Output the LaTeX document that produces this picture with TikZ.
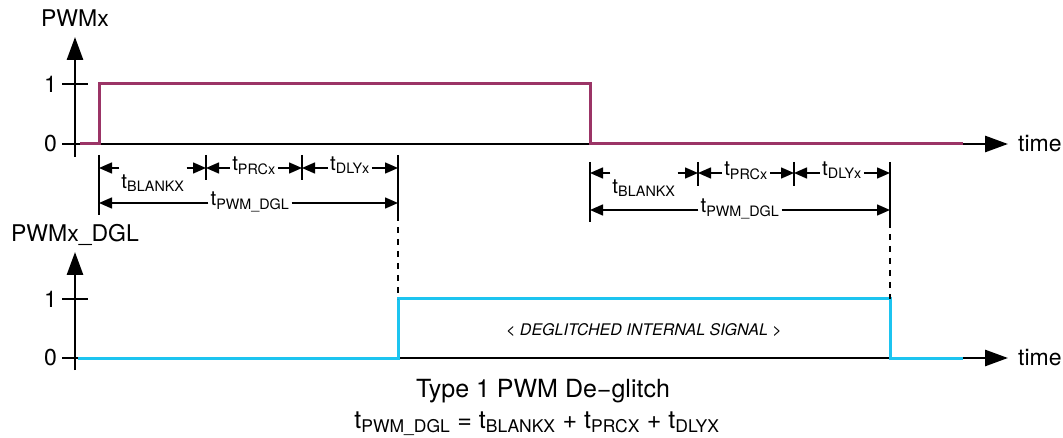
\documentclass[tikz,border=0pt]{standalone}
\usepackage{fontspec}
\setmainfont{TeX Gyre Heros}
\usetikzlibrary{arrows.meta, positioning, calc}

\definecolor{pwmred}{RGB}{155,52,102}
\definecolor{dglblue}{RGB}{28,196,240}
\newcommand{\tsub}[1]{t\textsubscript{#1}}

\begin{document}
\begin{tikzpicture}[
            x=1pt, y=-1pt,
            axis/.style={
				line width=2.8pt,
				-{Triangle[length=23pt,width=16pt]}
			},
            tickline/.style={
				line width=2pt
			},
            sigA/.style={
				line width=3pt,
				color=pwmred,
				line join=miter
			},
            sigB/.style={
				line width=3pt,
				color=dglblue,
				line join=miter
			},
            lbl/.style={
				font=\fontsize{23}{27}\selectfont,
				inner sep=1pt
			},
            dimtext/.style={
				font=\fontsize{20.5}{24}\selectfont,
				anchor=mid,
				inner sep=2pt
			},
            dimtick/.style={
				line width=1.6pt
			},
            dimarrow/.style={
				line width=1.5pt,
				-{Triangle[length=13pt,width=11pt]}
			},
            guide/.style={
				line width=1.5pt,
				dash pattern=on 6pt off 6pt
			}
        ]

        \useasboundingbox (0,0) rectangle (1063,438);

        % upper trace: PWMx
        \coordinate (yA0) at (75,157);
        \coordinate (yA1) at (75,37);
        \coordinate (tA0) at (62,144);
        \coordinate (tA1) at (1008,144);
        \node (nameA) [lbl, anchor=base] at (75,27) {PWMx};
        \node (oneA) [lbl, anchor=east] at (58,84) {1};
        \node (zeroA) [lbl, anchor=east] at (58,144) {0};
        \node (timeA) [lbl, right=9pt of tA1] {time};

        \draw [axis] (yA0) -- (yA1);
        \draw [axis] (tA0) -- (tA1);
        \draw [tickline] ([xshift=4pt]oneA.east) -- ++(26,0);
        \draw [tickline] ([xshift=4pt]zeroA.east) -- ++(26,0);

        \coordinate (pwmRise) at (99,84);
        \coordinate (pwmFall) at (590,84);
        \draw [sigA] (80,144) -- (pwmRise |- tA0) -- (pwmRise) -- (pwmFall) -- (pwmFall |- tA0) -- (963,144);

        % lower trace: PWMx_DGL
        \coordinate (yB0) at (75,370);
        \coordinate (yB1) at (75,252);
        \coordinate (tB0) at (62,358);
        \coordinate (tB1) at (1008,358);
        \node (nameB) [lbl, anchor=base] at (75,242) {PWMx\_DGL};
        \node (oneB) [lbl, anchor=east] at (58,299) {1};
        \node (zeroB) [lbl, anchor=east] at (58,358) {0};
        \node (timeB) [lbl, right=9pt of tB1] {time};

        \draw [axis] (yB0) -- (yB1);
        \draw [axis] (tB0) -- (tB1);
        \draw [tickline] ([xshift=4pt]oneB.east) -- ++(26,0);
        \draw [tickline] ([xshift=4pt]zeroB.east) -- ++(26,0);

        \coordinate (dglRise) at (398,299);
        \coordinate (dglFall) at (890,299);
        \draw [sigB] (78,358) -- (dglRise |- tB0) -- (dglRise) -- (dglFall) -- (dglFall |- tB0) -- (963,358);

        \node (inner) [font=\fontsize{16}{19}\selectfont\itshape] at (644,330) {< DEGLITCHED INTERNAL SIGNAL >};

        % timing after rising edge
        \coordinate (mA1) at (99,155);
        \coordinate (mA2) at (206,155);
        \coordinate (mA3) at (302,155);
        \coordinate (mA4) at (398,155);
        \draw [dimtick] (mA1) -- ++(0,60);
        \draw [dimtick] (mA2) -- ++(0,25);
        \draw [dimtick] (mA3) -- ++(0,25);
        \draw [dimtick] (mA4) -- ++(0,60) coordinate (gA);

        \node (prcA) [dimtext] at (254,168) {\tsub{PRCx}};
        \node (dlyA) [dimtext] at (350,168) {\tsub{DLYx}};
        \node (blankA) [dimtext] at (153,186) {\tsub{BLANKX}};
        \node (dglA) [dimtext] at (250,203) {\tsub{PWM\_DGL}};

        \draw [dimarrow] (blankA.west |- prcA.mid) -- (mA1 |- prcA.mid);
        \draw [dimarrow] (blankA.east |- prcA.mid) -- (mA2 |- prcA.mid);
        \draw [dimarrow] (prcA.mid west) -- (mA2 |- prcA.mid);
        \draw [dimarrow] (prcA.mid east) -- (mA3 |- prcA.mid);
        \draw [dimarrow] (dlyA.mid west) -- (mA3 |- dlyA.mid);
        \draw [dimarrow] (dlyA.mid east) -- (mA4 |- dlyA.mid);
        \draw [dimarrow] (dglA.mid west) -- (mA1 |- dglA.mid);
        \draw [dimarrow] (dglA.mid east) -- (mA4 |- dglA.mid);

        \draw [guide] (gA) -- (dglRise);

        % timing after falling edge
        \coordinate (mB1) at (590,162);
        \coordinate (mB2) at (698,162);
        \coordinate (mB3) at (794,162);
        \coordinate (mB4) at (890,162);
        \draw [dimtick] (mB1) -- ++(0,60);
        \draw [dimtick] (mB2) -- ++(0,24);
        \draw [dimtick] (mB3) -- ++(0,24);
        \draw [dimtick] (mB4) -- ++(0,60) coordinate (gB);

        \node (prcB) [dimtext] at (746,173) {\tsub{PRCx}};
        \node (dlyB) [dimtext] at (842,173) {\tsub{DLYx}};
        \node (blankB) [dimtext] at (644,191) {\tsub{BLANKX}};
        \node (dglB) [dimtext] at (740,210) {\tsub{PWM\_DGL}};

        \draw [dimarrow] (blankB.west |- prcB.mid) -- (mB1 |- prcB.mid);
        \draw [dimarrow] (blankB.east |- prcB.mid) -- (mB2 |- prcB.mid);
        \draw [dimarrow] (prcB.mid west) -- (mB2 |- prcB.mid);
        \draw [dimarrow] (prcB.mid east) -- (mB3 |- prcB.mid);
        \draw [dimarrow] (dlyB.mid west) -- (mB3 |- dlyB.mid);
        \draw [dimarrow] (dlyB.mid east) -- (mB4 |- dlyB.mid);
        \draw [dimarrow] (dglB.mid west) -- (mB1 |- dglB.mid);
        \draw [dimarrow] (dglB.mid east) -- (mB4 |- dglB.mid);

        \draw [guide] (gB) -- (dglFall);

        % caption
        \node (title) [font=\fontsize{25}{30}\selectfont, anchor=base] at (543,397) {Type 1 PWM De−glitch};
        \node (eqn) [font=\fontsize{25}{30}\selectfont, anchor=base] at (537,428) {\tsub{PWM\_DGL} = \tsub{BLANKX} + \tsub{PRCX} + \tsub{DLYX}};

        \end{tikzpicture}
\end{document}
